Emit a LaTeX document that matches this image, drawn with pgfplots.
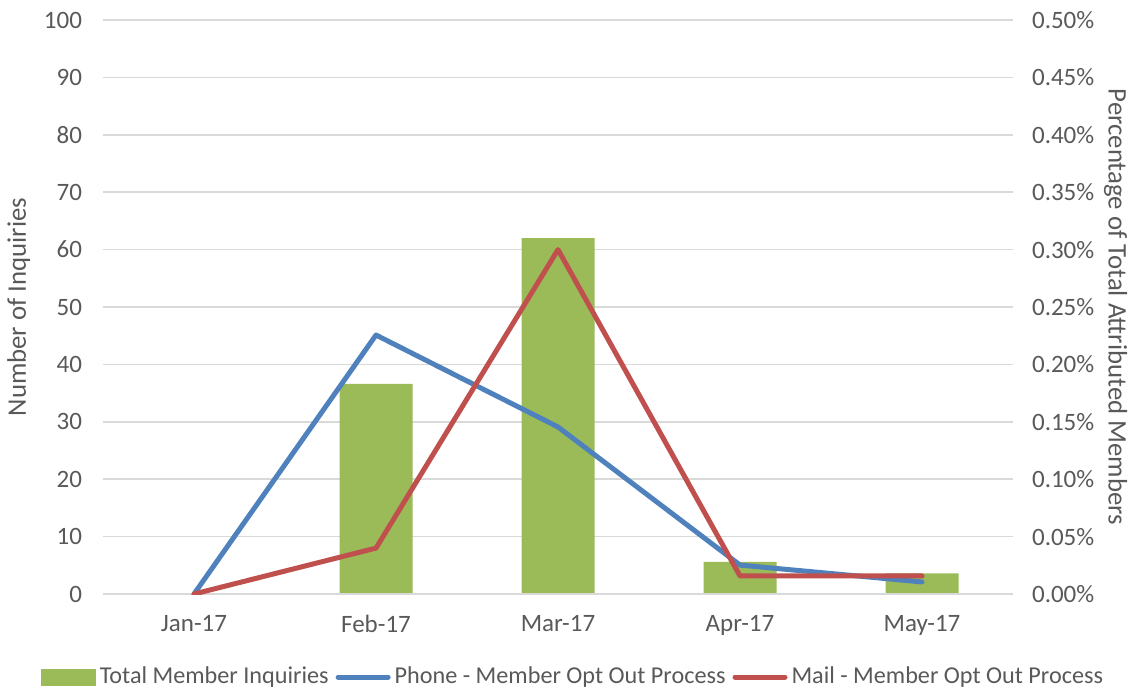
\documentclass[border=0pt]{standalone}
\usepackage{pgfplots}
\pgfplotsset{compat=1.18}
\usepackage{fontspec}
\setmainfont{Carlito}
\definecolor{txt}{HTML}{595959}
\definecolor{gridc}{HTML}{D9D9D9}
\definecolor{cgreen}{HTML}{9BBB59}
\definecolor{cblue}{HTML}{4F81BD}
\definecolor{cred}{HTML}{C0504D}
\begin{document}
\begin{tikzpicture}[font=\fontsize{12.5}{15}\selectfont]
\begin{axis}[
  name=a,
  scale only axis, width=455pt, height=287pt,
  xmin=-0.5, xmax=4.5, ymin=0, ymax=100,
  xtick={0,1,2,3,4},
  xticklabels={Jan-17,Feb-17,Mar-17,Apr-17,May-17},
  ytick={0,10,...,100},
  ymajorgrids, grid style={gridc, line width=0.8pt},
  major tick length=0pt,
  axis line style={draw=none},
  tick label style={txt},
  /pgf/number format/assume math mode=true,
  yticklabel style={xshift=-7pt},
  xticklabel style={yshift=-7pt},
  ylabel={Number of Inquiries},
  ylabel style={txt, font=\fontsize{13.4}{16}\selectfont, yshift=0pt},
]
\addplot[ybar, bar width=36.5pt, fill=cgreen, draw=none] coordinates {(0,0) (1,36.6) (2,62.0) (3,5.6) (4,3.6)};
\draw[gridc, line width=0.8pt] (rel axis cs:0,0) -- (rel axis cs:1,0);
\end{axis}
\begin{axis}[
  scale only axis, width=455pt, height=287pt,
  xmin=-0.5, xmax=4.5, ymin=0, ymax=0.5,
  axis x line=none,
  axis y line*=right,
  axis line style={draw=none},
  major tick length=0pt,
  ytick={0,0.05,...,0.5},
  yticklabel={\pgfmathprintnumber[fixed,fixed zerofill,precision=2]{\tick}\%},
  /pgf/number format/assume math mode=true,
  tick label style={txt},
  yticklabel style={xshift=6pt},
  ylabel={Percentage of Total Attributed Members},
  ylabel style={txt, font=\fontsize{13.4}{16}\selectfont, rotate=180, yshift=-2pt},
  legend columns=3,
  legend style={draw=none, at={(0.5176,-0.1446)}, anchor=center, text=txt,
    font=\fontsize{12.1}{14}\selectfont, inner xsep=0pt,
    /tikz/every even column/.append style={column sep=1.5pt}},
  legend cell align=left,
]
\addlegendimage{legend image code/.code={\fill[cgreen] (0pt,-4pt) rectangle (27pt,4pt);}}
\addlegendentry{Total Member Inquiries}
\addplot[cblue, line width=2.5pt, line join=round, line cap=round,
  legend image code/.code={\draw[cblue, line width=2.5pt, line cap=round] (1pt,0pt) -- (26pt,0pt);}] coordinates {(0,0) (1,0.2256) (2,0.1455) (3,0.0252) (4,0.0105)};
\addlegendentry{Phone - Member Opt Out Process}
\addplot[cred, line width=2.5pt, line join=round, line cap=round,
  legend image code/.code={\draw[cred, line width=2.5pt, line cap=round] (1pt,0pt) -- (26pt,0pt);}] coordinates {(0,0) (1,0.040) (2,0.300) (3,0.0157) (4,0.0157)};
\addlegendentry{Mail - Member Opt Out Process}
\end{axis}
\pgfresetboundingbox
\path ([shift={(-51.5pt,-49pt)}]a.south west) rectangle ([shift={(59.5pt,10pt)}]a.north east);
\end{tikzpicture}
\end{document}
